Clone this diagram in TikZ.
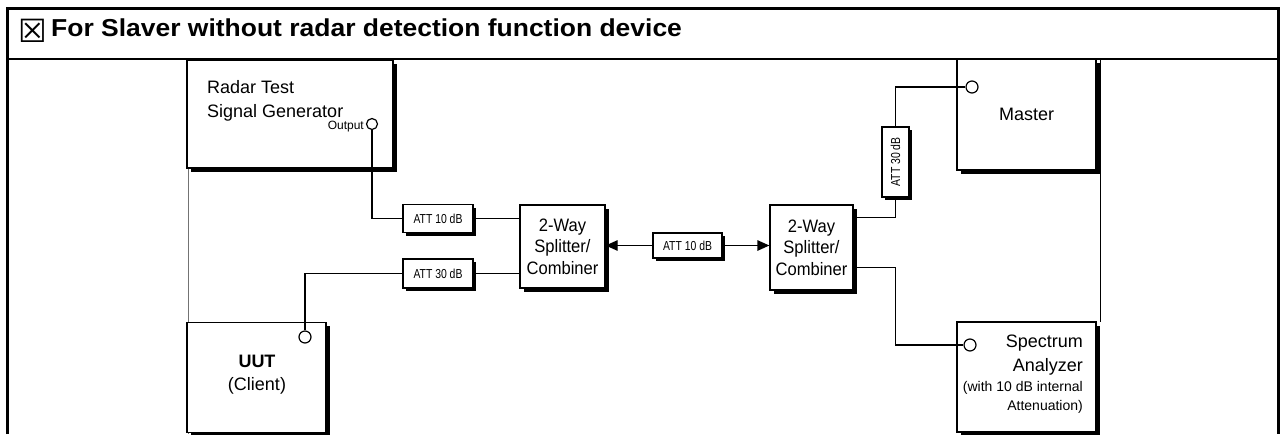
\documentclass[tikz,border=0pt]{standalone}
\usepackage{fontspec}
\setmainfont{Liberation Sans}
\newfontfamily\narrowfont[FakeStretch=0.8]{Liberation Sans}
\newfontfamily\splitfont[FakeStretch=0.92]{Liberation Sans}
\newfontfamily\titlefont[FakeStretch=1.08]{Liberation Sans Bold}
\newfontfamily\symfont{DejaVu Sans}
\usetikzlibrary{arrows.meta,shadows,calc}
\begin{document}
\begin{tikzpicture}[x=1pt,y=-1pt,
  box/.style={draw=black, line width=1.3pt, fill=white, rectangle, inner sep=0pt,
    drop shadow={shadow xshift=3.5pt, shadow yshift=-3.5pt, opacity=1, fill=black}},
  attbox/.style={draw=black, line width=1.2pt, fill=white, rectangle, inner sep=0pt,
    font=\narrowfont\fontsize{13}{15}\selectfont,
    drop shadow={shadow xshift=3pt, shadow yshift=-3pt, opacity=1, fill=black}},
  port/.style={draw=black, line width=1.2pt, fill=white, circle, inner sep=0pt, minimum size=12pt},
  lbl/.style={font=\fontsize{18}{23.5}\selectfont, inner sep=0pt},
  splitbox/.style={box, align=center, font=\splitfont\fontsize{18}{21.5}\selectfont},
  conn/.style={line width=1.3pt},
  arr/.style={line width=1.3pt, -{Triangle[length=12pt,width=10.5pt]}},
  frame/.style={line width=3pt},
]
\useasboundingbox (0,0) rectangle (1282,434);
% table frame
\draw[frame] (7.5,434) -- (7.5,8.5) -- (1278.5,8.5) -- (1278.5,434);
\draw[line width=2.5pt] (6,59) -- (1280,59);
% image borders
\draw[line width=1pt, draw=black!55] (188,60) -- (188,434);
\draw[line width=1pt] (1100,60) -- (1100,322);
% header
\node[anchor=base west, inner sep=0pt, font=\symfont\fontsize{32}{34}\selectfont] (chk) at (18.5,42) {☒};
\node[anchor=base west, inner sep=0pt, font=\titlefont\fontsize{24.5}{28}\selectfont] (title) at (51,36) {For Slaver without radar detection function device};
% boxes
\node[box, minimum width=206pt, minimum height=108pt] (gen) at (290,114) {};
\node[lbl, anchor=west, align=left] (gentxt) at (207,101) {Radar Test\\Signal Generator};
\node[anchor=east, inner sep=0pt, font=\fontsize{12}{14}\selectfont] (outlbl) at (364,126.5) {Output};
\node[port, minimum size=11pt] (outP) at (372,124) {};

\node[box, lbl, minimum width=139pt, minimum height=111pt] (master) at (1026.5,114.5) {Master};
\node[port] (masterP) at (972,87) {};

\node[box, minimum width=139pt, minimum height=110pt] (spec) at (1026.5,377) {};
\node[port] (specP) at (970,345) {};
\node[lbl, anchor=east, align=right] (spectxt) at (1083,355) {Spectrum\\Analyzer};
\node[anchor=east, align=right, inner sep=0pt, font=\fontsize{14}{19}\selectfont] (spectxt2) at (1083,397.5) {(with 10 dB internal\\Attenuation)};

\node[box, minimum width=139pt, minimum height=110pt] (uut) at (256.5,377.5) {};
\node[port] (uutP) at (305,337) {};
\node[lbl, align=center] (uuttxt) at (257,374.5) {{\bfseries UUT}\\(Client)};

\node[splitbox, minimum width=85pt, minimum height=83pt] (splitL) at (562.5,246.5) {2-Way\\Splitter/\\Combiner};
\node[splitbox, minimum width=83pt, minimum height=85pt] (splitR) at (811.5,247.5) {2-Way\\Splitter/\\Combiner};

\node[attbox, minimum width=70pt, minimum height=28pt] (att1) at (438,218.5) {ATT 10 dB};
\node[attbox, minimum width=70pt, minimum height=29pt] (att3) at (438,273.5) {ATT 30 dB};
\node[attbox, minimum width=69pt, minimum height=25pt] (attM) at (687.5,245.5) {ATT 10 dB};
\node[attbox, minimum width=27pt, minimum height=70pt] (att30v) at (895.5,162) {\rotatebox{90}{ATT 30 dB}};

% connectors
\draw[conn] (outP.south) |- (att1.west);
\draw[conn] (att1.east) -- (splitL.west |- att1.east);
\draw[conn] (uutP.north) |- (att3.west);
\draw[conn] (att3.east) -- (splitL.west |- att3.east);
\draw[arr] (attM.west) -- (splitL.east |- attM.west);
\draw[arr] (attM.east) -- (splitR.west |- attM.east);
\draw[conn] ($(splitR.north east)+(3.5,13)$) -| ($(att30v.center)+(0,35)$);
\draw[conn] ($(att30v.center)+(0,-35)$) |- (masterP.west);
\draw[conn] ($(splitR.south east)+(3.5,-23)$) -| (att30v.center |- specP.west) -- (specP.west);
\end{tikzpicture}
\end{document}
